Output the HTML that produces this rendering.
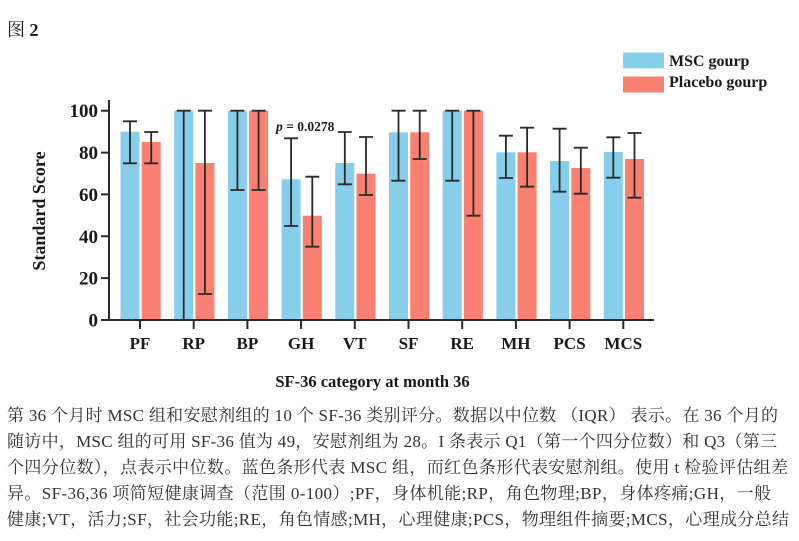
<!DOCTYPE html>
<html><head><meta charset="utf-8"><style>
html,body{margin:0;padding:0;background:#fff;}
svg{display:block;}
.ax{font-family:"Liberation Serif","Noto Serif CJK SC",serif;font-weight:bold;fill:#1a1a1a;}
.cap{font-family:"Liberation Serif","Noto Serif CJK SC",serif;font-size:17px;fill:#333;}
</style></head><body>
<svg width="799" height="541" viewBox="0 0 799 541" xmlns="http://www.w3.org/2000/svg">
<rect width="799" height="541" fill="#fff"/>
<text x="7" y="36" style="font-family:'Liberation Serif','Noto Serif CJK SC',serif;font-size:18px;fill:#222;">图 <tspan font-weight="bold">2</tspan></text>

<!-- legend -->
<rect x="623" y="52.5" width="41" height="16" fill="#87CEEB"/>
<rect x="623" y="76.5" width="41" height="16" fill="#FA8072"/>
<text class="ax" x="669" y="66" font-size="16">MSC gourp</text>
<text class="ax" x="669" y="87" font-size="16">Placebo gourp</text>

<!-- bars blue -->
<g fill="#87CEEB">
<rect x="120.5" y="131.7" width="19" height="188.3"/>
<rect x="174.2" y="110.7" width="19" height="209.3"/>
<rect x="227.9" y="110.7" width="19" height="209.3"/>
<rect x="281.6" y="179.3" width="19" height="140.7"/>
<rect x="335.3" y="163" width="19" height="157"/>
<rect x="389" y="132.3" width="19" height="187.7"/>
<rect x="442.7" y="110.7" width="19" height="209.3"/>
<rect x="496.4" y="152.3" width="19" height="167.7"/>
<rect x="550.1" y="161" width="19" height="159"/>
<rect x="603.8" y="152" width="19" height="168"/>
</g>
<g fill="#FA8072">
<rect x="141.7" y="142" width="19" height="178"/>
<rect x="195.4" y="163" width="19" height="157"/>
<rect x="249.1" y="110.7" width="19" height="209.3"/>
<rect x="302.8" y="215.7" width="19" height="104.3"/>
<rect x="356.5" y="173.7" width="19" height="146.3"/>
<rect x="410.2" y="132.3" width="19" height="187.7"/>
<rect x="463.9" y="110.7" width="19" height="209.3"/>
<rect x="517.6" y="152.3" width="19" height="167.7"/>
<rect x="571.3" y="168" width="19" height="152"/>
<rect x="625" y="159" width="19" height="161"/>
</g>

<!-- error bars -->
<g stroke="#2a2a2a" stroke-width="1.8" fill="none">
<path d="M130 121.3V163.3M123 121.3H137M123 163.3H137"/>
<path d="M151.2 132V163.3M144.2 132H158.2M144.2 163.3H158.2"/>
<path d="M183.7 110.7V320M176.7 110.7H190.7"/>
<path d="M204.9 110.7V294M197.9 110.7H211.9M197.9 294H211.9"/>
<path d="M237.4 110.7V190M230.4 110.7H244.4M230.4 190H244.4"/>
<path d="M258.6 110.7V190M251.6 110.7H265.6M251.6 190H265.6"/>
<path d="M291.1 138.3V226M284.1 138.3H298.1M284.1 226H298.1"/>
<path d="M312.3 176.7V246.7M305.3 176.7H319.3M305.3 246.7H319.3"/>
<path d="M344.8 132V184.3M337.8 132H351.8M337.8 184.3H351.8"/>
<path d="M366 137V195M359 137H373M359 195H373"/>
<path d="M398.5 110.7V180.7M391.5 110.7H405.5M391.5 180.7H405.5"/>
<path d="M419.7 110.7V159M412.7 110.7H426.7M412.7 159H426.7"/>
<path d="M452.2 110.7V180.7M445.2 110.7H459.2M445.2 180.7H459.2"/>
<path d="M473.4 110.7V215.7M466.4 110.7H480.4M466.4 215.7H480.4"/>
<path d="M505.9 135.7V178M498.9 135.7H512.9M498.9 178H512.9"/>
<path d="M527.1 127.7V186.7M520.1 127.7H534.1M520.1 186.7H534.1"/>
<path d="M559.6 128.7V191.7M552.6 128.7H566.6M552.6 191.7H566.6"/>
<path d="M580.8 147.7V193.7M573.8 147.7H587.8M573.8 193.7H587.8"/>
<path d="M613.3 137.3V177.7M606.3 137.3H620.3M606.3 177.7H620.3"/>
<path d="M634.5 133V197.7M627.5 133H641.5M627.5 197.7H641.5"/>
</g>

<!-- axes -->
<g stroke="#2a2a2a" stroke-width="2" fill="none">
<path d="M109 100V321M108 320H654"/>
<path d="M101 110.7H109M101 152.6H109M101 194.4H109M101 236.3H109M101 278.1H109M101 320H109"/>
<path d="M140 320V329M193.7 320V329M247.4 320V329M301.1 320V329M354.8 320V329M408.5 320V329M462.2 320V329M515.9 320V329M569.6 320V329M623.3 320V329"/>
</g>

<g class="ax" font-size="19" text-anchor="end">
<text x="98" y="117.2">100</text>
<text x="98" y="159.1">80</text>
<text x="98" y="200.9">60</text>
<text x="98" y="242.8">40</text>
<text x="98" y="284.6">20</text>
<text x="98" y="326.5">0</text>
</g>
<text class="ax" font-size="18" text-anchor="middle" transform="translate(45,211) rotate(-90)">Standard Score</text>

<g class="ax" font-size="17" text-anchor="middle">
<text x="140" y="349">PF</text>
<text x="193.7" y="349">RP</text>
<text x="247.4" y="349">BP</text>
<text x="301.1" y="349">GH</text>
<text x="354.8" y="349">VT</text>
<text x="408.5" y="349">SF</text>
<text x="462.2" y="349">RE</text>
<text x="515.9" y="349">MH</text>
<text x="569.6" y="349">PCS</text>
<text x="623.3" y="349">MCS</text>
</g>
<text class="ax" font-size="16.5" x="372.5" y="387" text-anchor="middle">SF-36 category at month 36</text>

<text class="ax" font-size="13.5" x="276" y="131"><tspan font-style="italic">p</tspan> = 0.0278</text>

<!-- caption -->
<g class="cap">
<text x="7" y="421" textLength="771" lengthAdjust="spacing">第 36 个月时 MSC 组和安慰剂组的 10 个 SF-36 类别评分。数据以中位数 （IQR） 表示。在 36 个月的</text>
<text x="7" y="447" textLength="770" lengthAdjust="spacing">随访中，MSC 组的可用 SF-36 值为 49，安慰剂组为 28。I 条表示 Q1（第一个四分位数）和 Q3（第三</text>
<text x="7" y="473" textLength="781" lengthAdjust="spacing">个四分位数），点表示中位数。蓝色条形代表 MSC 组，而红色条形代表安慰剂组。使用 t 检验评估组差</text>
<text x="7" y="499" textLength="764" lengthAdjust="spacing">异。SF-36,36 项简短健康调查（范围 0-100）;PF，身体机能;RP，角色物理;BP，身体疼痛;GH，一般</text>
<text x="7" y="525" textLength="782" lengthAdjust="spacing">健康;VT，活力;SF，社会功能;RE，角色情感;MH，心理健康;PCS，物理组件摘要;MCS，心理成分总结</text>
</g>
</svg>
</body></html>
